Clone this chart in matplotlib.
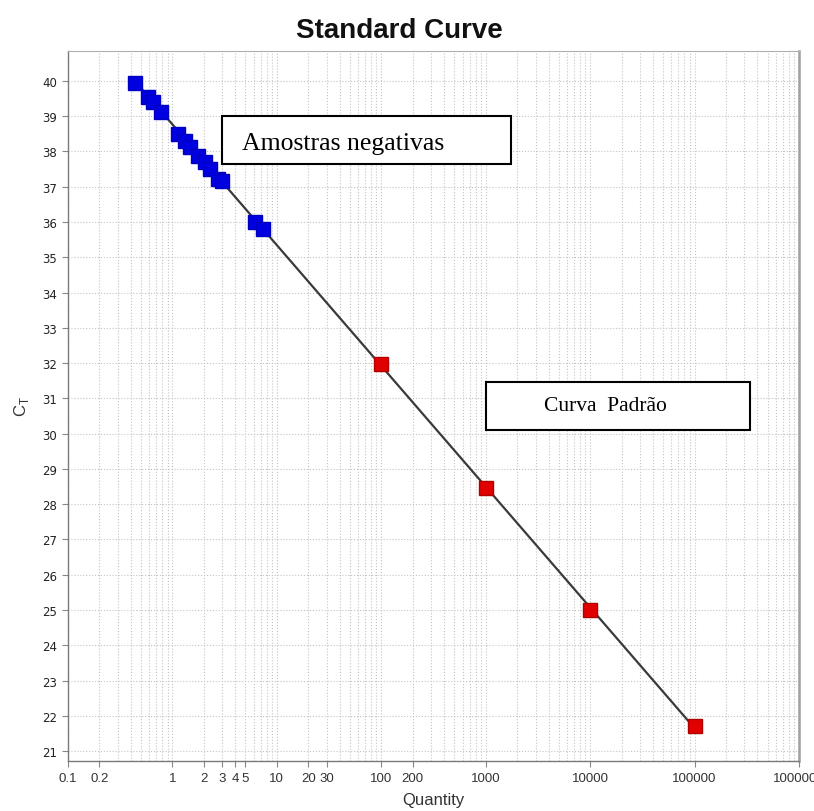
import numpy as np
import matplotlib
matplotlib.use("Agg")
import matplotlib.pyplot as plt
from matplotlib.patches import Rectangle
from matplotlib.ticker import LogLocator, FixedLocator, NullFormatter

# --- Data ---------------------------------------------------------------------
# negative samples (blue)
neg_qty = [0.44, 0.58, 0.65, 0.78, 1.13, 1.32, 1.47, 1.76, 2.05, 2.29, 2.73, 2.98, 6.19, 7.38]
neg_ct = [39.94, 39.55, 39.40, 39.12, 38.50, 38.30, 38.13, 37.87, 37.70, 37.50, 37.22, 37.16, 36.00, 35.80]
# standards (red)
std_qty = [100, 1000, 10000, 100000]
std_ct = [31.97, 28.46, 25.00, 21.71]

xtick_vals = [0.1, 0.2, 1, 2, 3, 4, 5, 10, 20, 30, 100, 200, 1000, 10000, 100000, 1000000]
xtick_labels = ["0.1", "0.2", "1", "2", "3", "4", "5", "10", "20", "30",
                "100", "200", "1000", "10000", "100000", "1000000"]
ytick_vals = list(range(21, 41))

# --- Figure ---------------------------------------------------------------------
fig = plt.figure(figsize=(8.14, 8.12), dpi=100)
ax = fig.add_axes([0.0835, 0.0616, 0.8981, 0.8744])

# fitted standard curve (through the standards)
slope, icpt = np.polyfit(np.log10(std_qty), std_ct, 1)
xs = np.array([min(neg_qty), max(std_qty)])
ax.plot(xs, slope * np.log10(xs) + icpt, color="#3a3a3a", lw=1.6, zorder=2)

ax.plot(neg_qty, neg_ct, "s", ms=10, color="#0000e0", mec="#0000c0", zorder=3)
ax.plot(std_qty, std_ct, "s", ms=10, color="#e00000", mec="#b00000", zorder=3)

ax.set_xscale("log")
ax.set_xlim(0.1, 1000000)
ax.set_ylim(20.72, 40.85)

ax.xaxis.set_major_locator(FixedLocator(xtick_vals))
ax.set_xticklabels(xtick_labels, family=["Liberation Sans Narrow", "Liberation Sans"],
                   fontsize=9.5, color="#333333")
ax.xaxis.set_minor_locator(LogLocator(base=10, subs=np.arange(2, 10), numticks=20))
ax.xaxis.set_minor_formatter(NullFormatter())
ax.set_yticks(ytick_vals)
ax.set_yticklabels([str(v) for v in ytick_vals], family="DejaVu Sans",
                   fontsize=8.5, color="#222222")

ax.tick_params(axis="both", which="major", direction="out", length=4,
               color="#888888", width=0.8, pad=4)
ax.tick_params(axis="x", which="minor", length=0)

# dotted grid
ax.grid(True, axis="x", which="both", linestyle=":", color="#c4c4c4", lw=0.8, zorder=0)
ax.grid(True, axis="y", which="major", linestyle=":", color="#c4c4c4", lw=0.8, zorder=0)
ax.set_axisbelow(True)

for side in ["left", "bottom"]:
    ax.spines[side].set_color("#7a7a7a")
    ax.spines[side].set_linewidth(1.0)
ax.spines["top"].set_color("#b0b0b0")
ax.spines["right"].set_color("#a0a0a0")
ax.spines["right"].set_linewidth(1.8)

ax.set_xlabel("Quantity", family="Liberation Sans", fontsize=12, color="#333333", labelpad=6)
ax.set_ylabel(r"C$_\mathregular{T}$", family="Liberation Sans", fontsize=12,
              color="#333333", labelpad=8)

fig.text(0.491, 0.962, "Standard Curve", ha="center", va="center",
         family="Liberation Sans", fontweight="bold", fontsize=20, color="#111111")

# annotation boxes
fig.add_artist(Rectangle((222 / 814, 1 - 165 / 812), 289 / 814, 48 / 812,
                         transform=fig.transFigure, fill=True, facecolor="white",
                         edgecolor="black", lw=1.5, zorder=5))
fig.text(242 / 814, 1 - 144 / 812, "Amostras negativas", ha="left", va="center",
         family="Liberation Serif", fontsize=18.5, color="black", zorder=6)

fig.add_artist(Rectangle((486 / 814, 1 - 431 / 812), 264 / 814, 48 / 812,
                         transform=fig.transFigure, fill=True, facecolor="white",
                         edgecolor="black", lw=1.5, zorder=5))
fig.text(544 / 814, 1 - 407 / 812, "Curva  Padrão", ha="left", va="center",
         family="Liberation Serif", fontsize=15.5, color="black", zorder=6)

fig.savefig("out.png", dpi=100)
